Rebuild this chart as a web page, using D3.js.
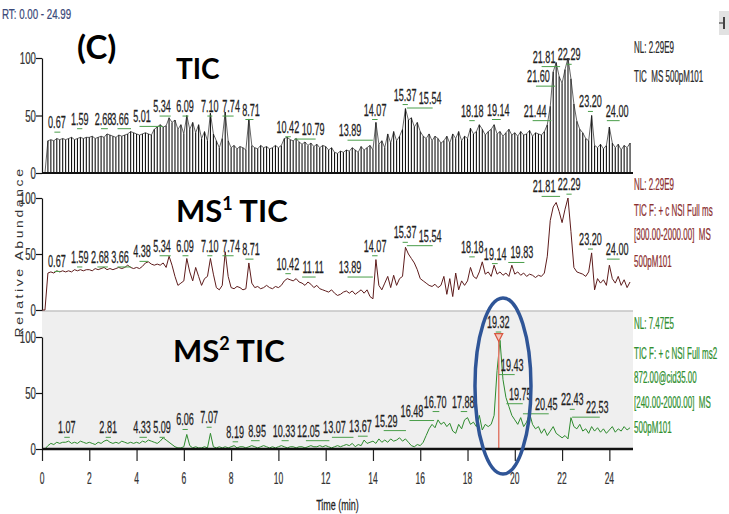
<!DOCTYPE html>
<html>
<head>
<meta charset="utf-8">
<script src="https://cdn.jsdelivr.net/npm/d3@7"></script>
<style>
  body { margin: 0; background: #fff; }
  svg text { font-family: "Liberation Sans", Arial, sans-serif; }
  .big { font-family: Lato, "Open Sans", sans-serif; font-weight: bold; }
</style>
</head>
<body>
<svg id="chart" width="729" height="514"></svg>
<script>
// Retention time grid: one sample every 0.125 min starting at 0.00 min
const sampleStep = 0.125;

// Full-scan TIC (relative abundance, %), one value per scan, 8 per minute
const ticSignal = [
  0,0,28,29,28,30,29,30,        // 0 min
  29,30,31,29,30,31,30,31,      // 1
  31,32,30,31,32,31,34,33,      // 2
  32,31,33,32,33,34,36,35,      // 3
  34,33,34,35,34,33,38,40,      // 4
  42,40,41,48,44,46,38,42,      // 5
  34,50,38,44,35,42,30,36,      // 6
  28,52,34,28,22,30,53,28,      // 7
  22,24,21,23,22,20,47,24,      // 8
  22,21,24,22,23,21,22,24,      // 9
  22,24,30,31,29,28,30,27,      // 10
  25,27,24,26,23,25,22,24,      // 11
  23,20,22,18,17,19,18,20,      // 12
  19,22,20,18,23,20,22,24,      // 13
  20,44,25,28,22,34,26,36,      // 14
  28,32,38,56,46,48,40,44,      // 15
  36,32,30,34,28,32,30,26,      // 16
  28,32,26,34,30,36,28,32,      // 17
  30,39,34,36,42,38,33,36,      // 18
  38,42,34,36,32,35,38,33,      // 19
  35,32,36,33,34,37,32,35,      // 20
  34,33,36,42,58,88,96,84,      // 21
  78,90,100,82,60,45,38,35,     // 22
  30,28,50,24,22,25,21,24,      // 23
  40,26,22,25,20,24,22,26       // 24
];

// MS1 TIC, m/z 300-2000
const ms1Signal = [
  0,0,33,34,33,35,34,35,        // 0 min
  34,35,34,36,35,36,35,36,      // 1
  36,35,37,36,37,38,36,37,      // 2
  36,37,38,37,38,40,38,37,      // 3
  38,37,39,42,43,41,40,41,      // 4
  40,42,38,48,40,30,22,24,      // 5
  26,46,34,26,38,30,22,28,      // 6
  30,46,32,20,18,22,52,30,      // 7
  20,19,21,20,18,19,42,24,      // 8
  20,21,19,20,22,20,19,21,      // 9
  20,22,26,28,27,26,28,25,      // 10
  24,22,25,23,20,22,19,18,      // 11
  17,16,18,15,13,14,16,17,      // 12
  15,17,14,16,18,15,18,12,      // 13
  10,45,22,18,24,30,20,31,      // 14
  22,28,30,56,50,46,42,36,      // 15
  28,26,24,22,21,23,20,22,      // 16
  30,14,28,12,33,18,26,22,      // 17
  26,38,30,28,34,43,32,34,      // 18
  30,40,32,34,31,33,30,40,      // 19
  32,34,31,33,30,32,31,29,      // 20
  31,30,33,48,80,92,96,88,      // 21
  78,90,100,70,38,34,33,32,     // 22
  30,34,51,18,28,24,27,22,      // 23
  40,28,24,30,22,27,20,25       // 24
];

// MS2 TIC, precursor 872.00 (CID 35), m/z 240-2000
const ms2Signal = [
  0,0,3,5,4,6,5,6,              // 0 min
  6,7,5,6,5,7,6,5,              // 1
  6,5,4,6,5,7,8,6,              // 2
  5,6,5,7,6,5,6,5,              // 3
  6,5,7,6,8,7,6,5,              // 4
  7,10,8,6,4,2,1,1,             // 5
  2,13,3,1,2,1,1,2,             // 6
  1,14,2,1,2,1,2,1,             // 7
  2,3,1,2,2,1,2,3,              // 8
  2,1,2,3,2,1,2,1,              // 9
  2,3,2,1,2,2,1,2,              // 10
  2,1,2,3,2,2,3,2,              // 11
  3,2,1,2,3,2,3,4,              // 12
  3,5,2,4,3,8,5,6,              // 13
  7,5,9,6,8,6,9,7,              // 14
  8,10,7,9,6,3,2,4,             // 15
  3,6,12,18,22,19,26,22,        // 16
  24,20,23,16,14,22,18,26,      // 17
  28,22,24,20,30,17,22,20,      // 18
  22,30,70,97,62,46,38,30,      // 19
  26,22,28,20,24,32,22,18,      // 20
  20,14,18,12,16,20,14,12,      // 21
  10,12,9,28,20,18,22,16,       // 22
  18,14,20,16,19,15,18,14,      // 23
  17,20,15,18,16,20,17,19       // 24
];

// Peak labels: [retention time text, label placed at time (min), label placed at level (%)]
const ticLabels = [
  ["0.67",0.63,39],["1.59",1.6,42],["2.68",2.6,42],["3.66",3.3,42],["5.01",4.23,44],
  ["5.34",5.08,53],["6.09",6.05,53],["7.10",7.1,53],["7.74",8.0,53],["8.71",8.84,50],
  ["10.42",10.4,35],["10.79",11.47,33],["13.89",13.03,32],["14.07",14.09,50],
  ["15.37",15.36,63],["15.54",16.42,60],["18.18",18.2,49],["19.14",19.3,50],
  ["21.44",20.86,49],["21.60",21.0,79],["21.81",21.24,96],["22.29",22.3,98],
  ["23.20",23.2,57],["24.00",24.33,49]
];
const ms1Labels = [
  ["0.67",0.63,38],["1.59",1.6,42],["2.68",2.45,42],["3.66",3.3,42],["4.38",4.23,47],
  ["5.34",5.08,52],["6.09",6.05,52],["7.10",7.1,52],["7.74",8.0,52],["8.71",8.84,49],
  ["10.42",10.4,36],["11.11",11.47,33],["13.89",13.03,33],["14.07",14.09,52],
  ["15.37",15.36,64],["15.54",16.42,61],["18.18",18.2,51],["19.14",19.17,45],
  ["19.83",20.3,46],["21.81",21.24,105],["22.29",22.3,107],["23.20",23.2,58],["24.00",24.33,49]
];
const ms2Labels = [
  ["1.07",1.05,14],["2.81",2.8,14],["4.33",4.23,14],["5.09",5.08,14],["6.06",6.05,21],
  ["7.07",7.07,23],["8.19",8.17,10],["8.95",9.1,11],["10.33",10.24,11],["12.05",11.27,11],
  ["13.07",12.37,14],["13.67",13.47,15],["15.29",14.56,20],["16.48",15.65,29],
  ["16.70",16.63,37],["17.88",17.82,37],["19.32",19.3,108],["19.43",19.89,70],
  ["19.75",20.23,44],["20.45",21.33,35],["22.43",22.43,39],["22.53",23.49,32]
];

// Apex marked on the MS2 trace
const markedPeak = 19.32;

// Axis ticks
const yMajorTicks = [0, 50, 100];
const yMinorTicks = d3.range(0, 101, 10);
const xMinorTicks = d3.range(0, 25, 0.5);
const xMajorTicks = [0, 2, 4, 6, 8, 10, 12, 14, 16, 18, 20, 22, 24];

// Side annotations for each trace
const ticInfo = ["NL: 2.29E9", "TIC  MS 500pM101"];
const ms1Info = ["NL: 2.29E9", "TIC F: + c NSI Full ms", "[300.00-2000.00]  MS", "500pM101"];
const ms2Info = ["NL: 7.47E5", "TIC F: + c NSI Full ms2", "872.00@cid35.00", "[240.00-2000.00]  MS", "500pM101"];

// ---------------------------------------------------------------------------
const svg = d3.select("#chart");
const x = d3.scaleLinear().domain([0, 25]).range([42, 633]);
const yTic = d3.scaleLinear().domain([0, 100]).range([173, 58]);
const yMs1 = d3.scaleLinear().domain([0, 100]).range([310, 198]);
const yMs2 = d3.scaleLinear().domain([0, 100]).range([449, 337]);

const toPoints = arr => arr.map((v, i) => ({ t: i * sampleStep, v }));

// condensed text, as exported by the acquisition software
function narrow(g, px, py, str, size, sx, anchor, fill) {
  return g.append("text")
    .attr("transform", `translate(${px},${py}) scale(${sx},1)`)
    .attr("text-anchor", anchor || "middle")
    .attr("font-size", size)
    .attr("fill", fill || "#222")
    .attr("stroke", fill || "#222").attr("stroke-width", 0.25)
    .style("white-space", "pre")
    .text(str);
}

// MS2 panel background
svg.append("rect")
  .attr("x", x(0)).attr("y", 311)
  .attr("width", x(25) - x(0)).attr("height", yMs2(0) - 311)
  .attr("fill", "#efefef");
svg.append("line")
  .attr("x1", x(0)).attr("x2", x(25)).attr("y1", 311).attr("y2", 311)
  .attr("stroke", "#c4c4c4").attr("stroke-width", 1.5);

// y axes
function yAxis(y) {
  const g = svg.append("g").attr("transform", `translate(${x(0)},0)`);
  g.call(d3.axisLeft(y).tickValues(yMinorTicks).tickSize(3).tickSizeOuter(0).tickFormat(""));
  g.call(d3.axisLeft(y).tickValues(yMajorTicks).tickSize(6).tickSizeOuter(0).tickFormat(""));
  g.selectAll("path,line").attr("stroke", "#111").attr("stroke-width", 1.2);
  yMajorTicks.forEach(v => narrow(svg, x(0) - 6, y(v) + 6, String(v), 17, 0.57, "end", "#333"));
}
yAxis(yTic); yAxis(yMs1); yAxis(yMs2);

// --- TIC: one stick per scan
const ticPts = toPoints(ticSignal);
const ticG = svg.append("g");
ticG.selectAll("line.stick").data(ticPts).join("line")
  .attr("class", "stick")
  .attr("x1", d => x(d.t)).attr("x2", d => x(d.t))
  .attr("y1", yTic(0)).attr("y2", d => yTic(d.v))
  .attr("stroke", "#111").attr("stroke-width", 1.1);
ticG.append("path").datum(ticPts)
  .attr("d", d3.line().x(d => x(d.t)).y(d => yTic(d.v)))
  .attr("fill", "none").attr("stroke", "#222").attr("stroke-width", 0.7);
svg.append("line")
  .attr("x1", x(0)).attr("x2", x(25)).attr("y1", yTic(0)).attr("y2", yTic(0))
  .attr("stroke", "#111").attr("stroke-width", 2);

// --- MS1 trace
svg.append("path").datum(toPoints(ms1Signal))
  .attr("d", d3.line().x(d => x(d.t)).y(d => yMs1(d.v)))
  .attr("fill", "none").attr("stroke", "#5e1c1c").attr("stroke-width", 1);

// --- MS2 trace
svg.append("path").datum(toPoints(ms2Signal))
  .attr("d", d3.line().x(d => x(d.t)).y(d => yMs2(d.v)))
  .attr("fill", "none").attr("stroke", "#2e8b2e").attr("stroke-width", 1);

// apex marker on the MS2 trace
svg.append("line")
  .attr("x1", x(markedPeak)).attr("x2", x(markedPeak))
  .attr("y1", yMs2(97)).attr("y2", yMs2(0))
  .attr("stroke", "#e07a6a").attr("stroke-width", 1.5);
svg.append("path")
  .attr("d", `M${x(markedPeak) - 4},${yMs2(103)} L${x(markedPeak) + 4},${yMs2(103)} L${x(markedPeak)},${yMs2(96)} Z`)
  .attr("fill", "#f3c7bd").attr("stroke", "#d9553f").attr("stroke-width", 1.2);

// x axis
const xg = svg.append("g").attr("transform", `translate(0,${yMs2(0)})`);
xg.call(d3.axisBottom(x).tickValues(xMinorTicks).tickSize(9).tickSizeOuter(0).tickFormat(""));
xg.call(d3.axisBottom(x).tickValues(xMajorTicks).tickSize(12).tickSizeOuter(0).tickFormat(""));
xg.selectAll("line").attr("stroke", "#222").attr("stroke-width", 1.2);
xg.selectAll("path").remove();
svg.append("line")
  .attr("x1", x(0)).attr("x2", x(25)).attr("y1", yMs2(0)).attr("y2", yMs2(0))
  .attr("stroke", "#111").attr("stroke-width", 2.5);
xMajorTicks.forEach(v => narrow(svg, x(v), 484, String(v), 17, 0.5, "middle", "#333"));
narrow(svg, x(12.5), 510, "Time (min)", 15, 0.6, "middle", "#222");

// peak labels with their leader marks
function peakLabels(y, labels, lead) {
  const g = svg.append("g");
  labels.forEach(([txt, at, level]) => {
    const bx = x(at), by = y(level), px = x(+txt);
    const a = Math.min(px, bx) - 2.5, b = Math.max(px, bx) + 2.5;
    g.append("line").attr("x1", a).attr("x2", b).attr("y1", by + 4).attr("y2", by + 4)
      .attr("stroke", lead).attr("stroke-width", 1);
    narrow(g, bx, by, txt, 16.5, 0.55, "middle", "#1e1e1e");
  });
}
peakLabels(yTic, ticLabels, "#4a9e4a");
peakLabels(yMs1, ms1Labels, "#4a9e4a");
peakLabels(yMs2, ms2Labels, "#4a9e4a");

// side annotations
function info(lines, baselines, fill) {
  lines.forEach((s, i) => narrow(svg, 634, baselines[i], s, 16, 0.5, "start", fill));
}
info(ticInfo, [53, 82], "#2a2a2a");
info(ms1Info, [190, 216, 240, 267], "#8b2f2f");
info(ms2Info, [329, 359, 383, 408, 433], "#2f8f2f");

// run range header
narrow(svg, 2, 19, "RT: 0.00 - 24.99", 15, 0.65, "start", "#3b4a7a");

// y axis title
svg.append("text")
  .attr("transform", "translate(23,252) scale(0.8,1) rotate(-90)")
  .attr("text-anchor", "middle").attr("font-size", 14)
  .attr("letter-spacing", 2.6).attr("fill", "#333")
  .text("Relative Abundance");

// panel titles
svg.append("text").attr("class", "big").attr("x", 77).attr("y", 59).attr("font-size", 33).text("(C)");
svg.append("text").attr("class", "big").attr("x", 176).attr("y", 79).attr("font-size", 28).text("TIC");
const t1 = svg.append("text").attr("class", "big").attr("x", 176).attr("y", 222).attr("font-size", 31);
t1.append("tspan").text("MS");
t1.append("tspan").attr("font-size", 18).attr("dy", -12).text("1");
t1.append("tspan").attr("dy", 12).text(" TIC");
const t2 = svg.append("text").attr("class", "big").attr("x", 173).attr("y", 362).attr("font-size", 31);
t2.append("tspan").text("MS");
t2.append("tspan").attr("font-size", 18).attr("dy", -12).text("2");
t2.append("tspan").attr("dy", 12).text(" TIC");

// highlight around the MS2 apex
svg.append("ellipse")
  .attr("cx", x(19.5)).attr("cy", 386).attr("rx", 28).attr("ry", 88)
  .attr("fill", "none").attr("stroke", "#2f5597").attr("stroke-width", 3.5);

// window pin button
svg.append("rect").attr("x", 719).attr("y", 11).attr("width", 10).attr("height", 24).attr("fill", "#e2e2e2");
svg.append("line").attr("x1", 719).attr("x2", 724).attr("y1", 23).attr("y2", 23).attr("stroke", "#444").attr("stroke-width", 1.2);
svg.append("line").attr("x1", 724).attr("x2", 724).attr("y1", 17).attr("y2", 29).attr("stroke", "#444").attr("stroke-width", 2);
</script>
</body>
</html>
